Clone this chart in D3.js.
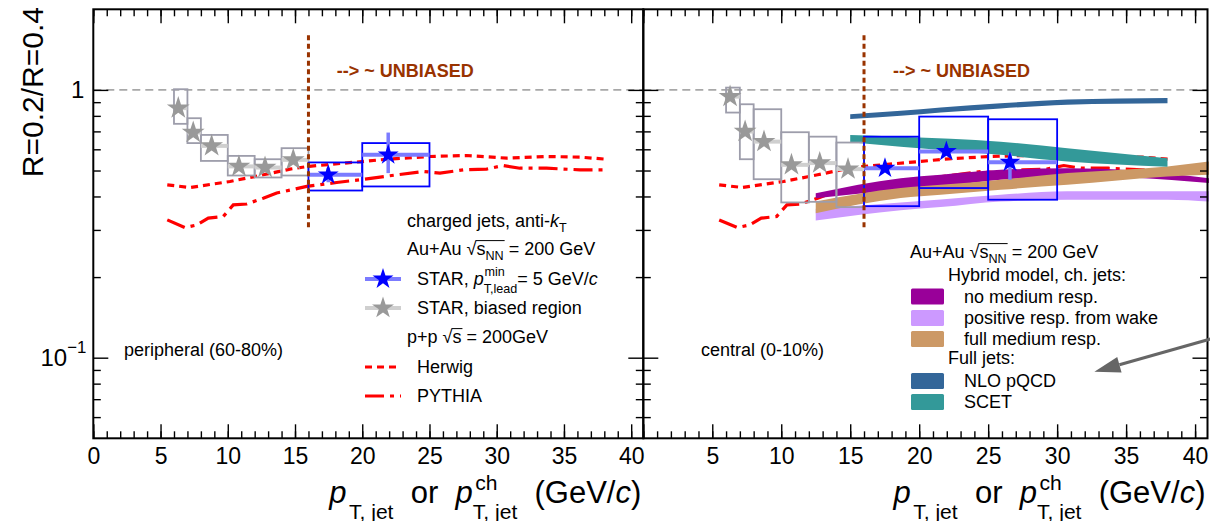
<!DOCTYPE html>
<html>
<head>
<meta charset="utf-8">
<script src="https://cdn.jsdelivr.net/npm/d3@7"></script>
<style>
  html, body { margin: 0; padding: 0; background: #fff; }
  svg { display: block; font-family: "Liberation Sans", Arial, Helvetica, sans-serif; }
  text { white-space: pre; }
</style>
</head>
<body>
<svg id="chart" width="1210" height="521"></svg>
<script>
// ---------------- axis ticks ----------------
const xMajor = [0, 5, 10, 15, 20, 25, 30, 35, 40];
const xMinor = d3.range(0, 41, 1);
const xLabelsLeft = [0, 5, 10, 15, 20, 25, 30, 35, 40];
const xLabelsRight = [5, 10, 15, 20, 25, 30, 35, 40];
const yMajor = [0.1, 1];
const yMinor = [0.06, 0.07, 0.08, 0.09, 0.2, 0.3, 0.4, 0.5, 0.6, 0.7, 0.8, 0.9];

// ---------------- STAR bins ----------------
const biasedBinLo = [6, 7, 8, 10, 12, 14];
const biasedBinHi = [7, 8, 10, 12, 14, 16];

// peripheral (60-80%)
const periBiasedX = [6.32, 7.43, 8.80, 10.83, 12.77, 14.87];
const periBiasedY = [0.855, 0.693, 0.618, 0.518, 0.513, 0.548];
const periBiasedSysLo = [0.747, 0.633, 0.543, 0.479, 0.471, 0.479];
const periBiasedSysHi = [1.006, 0.784, 0.679, 0.567, 0.551, 0.606];

const periBinLo = [16, 20];
const periBinHi = [20, 25];
const periX = [17.47, 21.93];
const periY = [0.482, 0.572];
const periStatLo = [0.452, 0.489];
const periStatHi = [0.512, 0.693];
const periSysLo = [0.421, 0.436];
const periSysHi = [0.536, 0.633];

// central (0-10%)
const centBiasedX = [6.29, 7.38, 8.75, 10.74, 12.79, 14.84];
const centBiasedY = [0.944, 0.699, 0.641, 0.525, 0.533, 0.506];
const centBiasedSysLo = [0.823, 0.551, 0.464, 0.380, 0.382, 0.365];
const centBiasedSysHi = [1.02, 0.884, 0.847, 0.695, 0.669, 0.636];

const centBinLo = [16, 20, 25];
const centBinHi = [20, 25, 30];
const centX = [17.52, 21.97, 26.58];
const centY = [0.510, 0.589, 0.537];
const centStatLo = [0.495, 0.572, 0.462];
const centStatHi = [0.526, 0.607, 0.580];
const centSysLo = [0.368, 0.430, 0.389];
const centSysHi = [0.669, 0.795, 0.777];

// ---------------- p+p MC ----------------
const herwigX = [5.5, 7.19, 10.16, 12.64, 14.62, 15.99, 19.96, 21.81, 25.03, 27.76, 30.74, 33.71, 36.19, 38.17];
const herwigY = [0.442, 0.432, 0.455, 0.482, 0.506, 0.518, 0.540, 0.551, 0.564, 0.569, 0.556, 0.564, 0.561, 0.551];

const pythiaX = [5.5, 6.82, 7.69, 8.55, 9.67, 10.41, 11.41, 12.64, 13.64, 15.87, 18.10, 19.83, 22.06, 24.54, 25.78, 27.51, 29.25, 30.48, 31.72, 33.71, 36.19, 38.04];
const pythiaY = [0.327, 0.306, 0.313, 0.332, 0.337, 0.372, 0.375, 0.394, 0.412, 0.436, 0.451, 0.462, 0.478, 0.496, 0.489, 0.503, 0.506, 0.522, 0.510, 0.510, 0.503, 0.503];

// ---------------- model bands (central) ----------------
const nloX  = [15, 18.66, 21.56, 25.9, 30.74, 38];
const nloLo = [0.778, 0.800, 0.824, 0.853, 0.881, 0.892];
const nloHi = [0.812, 0.836, 0.860, 0.891, 0.920, 0.932];

const scetX  = [15, 18.66, 25.9, 30.74, 38];
const scetLo = [0.637, 0.614, 0.572, 0.540, 0.517];
const scetHi = [0.679, 0.669, 0.641, 0.606, 0.556];

const noRespX  = [12.5, 18.66, 21.56, 25.9, 30.74, 35.6, 41];
const noRespLo = [0.394, 0.424, 0.436, 0.462, 0.475, 0.470, 0.449];
const noRespHi = [0.411, 0.468, 0.482, 0.503, 0.510, 0.500, 0.468];

const wakeX  = [12.5, 18.66, 21.56, 25.9, 30.74, 38, 41];
const wakeLo = [0.325, 0.355, 0.365, 0.383, 0.389, 0.389, 0.383];
const wakeHi = [0.360, 0.380, 0.390, 0.406, 0.418, 0.418, 0.418];

const fullRespX  = [12.5, 18.66, 21.56, 25.9, 30.74, 38, 41];
const fullRespLo = [0.346, 0.395, 0.406, 0.424, 0.442, 0.475, 0.482];
const fullRespHi = [0.383, 0.430, 0.442, 0.462, 0.489, 0.518, 0.540];

// ---------------- colours ----------------
const C = {
  blue: '#0000ff', blueBar: '#7b7bff', gray: '#999999', grayBox: '#9d9dab', grayBar: '#cfcfcf',
  red: '#ff0000', brownLine: '#993300',
  noResp: '#990099', wake: '#cc99ff', fullResp: '#cc9966', nlo: '#336699', scet: '#339999'
};

// ---------------- layout ----------------
const Y_TOP = 9.3, Y_BOT = 438.3;
const L0 = 93.3, MID = 643.3, R1 = 1207.5;
const y = d3.scaleLog().domain([0.05, 2]).range([Y_BOT, Y_TOP]);
const xL = d3.scaleLinear().domain([0, 40.9]).range([L0, MID]);
const xR = d3.scaleLinear().domain([0, 40.9]).range([MID, R1]);
const FS = 18;

const svg = d3.select('#chart');

// Text made of pieces (italic letters, sub/superscripts) laid out left to right
function rich(parent, x, yb, parts, opts = {}) {
  const size = opts.size || FS;
  const g = parent.append('g');
  let cx = 0, baseEnd = 0;
  const marks = {};
  parts.forEach(p => {
    const fs = size * (p.k || 1);
    const t = g.append('text')
      .attr('y', (p.dy || 0) * size)
      .attr('font-size', fs)
      .attr('fill', opts.fill || '#000')
      .attr('font-style', p.it ? 'italic' : null)
      .attr('font-weight', p.b || opts.bold ? 'bold' : null)
      .text(p.t);
    const x0 = p.stack ? baseEnd : cx + (p.gap || 0) * size;
    t.attr('x', x0);
    const w = t.node().getComputedTextLength();
    if (p.stack) cx = Math.max(cx, x0 + w);
    else { cx = x0 + w; if (!p.dy) baseEnd = cx; }
    if (p.mark) marks[p.mark] = { x0, x1: x0 + w };
  });
  if (marks.rad && marks.rend) {
    g.append('line')
      .attr('x1', marks.rad.x1 - 1).attr('x2', marks.rend.x1 + 1)
      .attr('y1', -0.80 * size).attr('y2', -0.80 * size)
      .attr('stroke', '#000').attr('stroke-width', 1);
  }
  const tx = opts.anchor === 'end' ? x - cx : x;
  g.attr('transform', `translate(${tx},${yb})`);
  return g;
}

function sqrtParts(sub) {
  const a = [{ t: '√', mark: 'rad' }, { t: 's' }];
  if (sub) a.push({ t: sub, k: 0.7, dy: 0.25, mark: 'rend' });
  else a[1].mark = 'rend';
  return a;
}

// ---------------- frames, axes ----------------
function panelAxes(xs, x0, x1, labels) {
  const ax = svg.append('g');
  const clean = g => g.select('.domain').remove();
  const style = g => g.selectAll('.tick line').attr('stroke', '#000').attr('stroke-width', 1.4);

  // bottom
  ax.append('g').attr('transform', `translate(0,${Y_BOT})`)
    .call(d3.axisBottom(xs).tickValues(xMinor).tickSize(-7).tickFormat(''))
    .call(clean).call(style);
  const gb = ax.append('g').attr('transform', `translate(0,${Y_BOT})`)
    .call(d3.axisBottom(xs).tickValues(xMajor).tickSize(-14).tickPadding(9)
      .tickFormat(d => labels.includes(d) ? d : ''))
    .call(clean).call(style);
  gb.selectAll('.tick text').attr('font-size', 23).attr('fill', '#000')
    .attr('font-family', '"Liberation Sans", Arial, sans-serif');

  // top
  ax.append('g').attr('transform', `translate(0,${Y_TOP})`)
    .call(d3.axisTop(xs).tickValues(xMinor).tickSize(-7).tickFormat(''))
    .call(clean).call(style);
  ax.append('g').attr('transform', `translate(0,${Y_TOP})`)
    .call(d3.axisTop(xs).tickValues(xMajor).tickSize(-14).tickFormat(''))
    .call(clean).call(style);

  // left / right
  ax.append('g').attr('transform', `translate(${x0},0)`)
    .call(d3.axisLeft(y).tickValues(yMinor).tickSize(-7.5).tickFormat(''))
    .call(clean).call(style);
  ax.append('g').attr('transform', `translate(${x0},0)`)
    .call(d3.axisLeft(y).tickValues(yMajor).tickSize(-15).tickFormat(''))
    .call(clean).call(style);
  ax.append('g').attr('transform', `translate(${x1},0)`)
    .call(d3.axisRight(y).tickValues(yMinor).tickSize(-7.5).tickFormat(''))
    .call(clean).call(style);
  ax.append('g').attr('transform', `translate(${x1},0)`)
    .call(d3.axisRight(y).tickValues(yMajor).tickSize(-15).tickFormat(''))
    .call(clean).call(style);

  ax.append('rect')
    .attr('x', x0).attr('y', Y_TOP).attr('width', x1 - x0).attr('height', Y_BOT - Y_TOP)
    .attr('fill', 'none').attr('stroke', '#000').attr('stroke-width', 2);
}

// ---------------- marks ----------------
const starGen = size => d3.symbol(d3.symbolStar, size)();

function drawRefLine(g, xs) {
  g.append('line')
    .attr('x1', xs.range()[0]).attr('x2', xs.range()[1])
    .attr('y1', y(1)).attr('y2', y(1))
    .attr('stroke', '#a8a8a8').attr('stroke-width', 1.6).attr('stroke-dasharray', '8,5');
}

function drawMC(g, xs) {
  const line = d3.line().x(d => xs(d[0])).y(d => y(d[1]));
  g.append('path').datum(d3.zip(herwigX, herwigY)).attr('d', line)
    .attr('fill', 'none').attr('stroke', C.red).attr('stroke-width', 3.2)
    .attr('stroke-dasharray', '7,5');
  g.append('path').datum(d3.zip(pythiaX, pythiaY)).attr('d', line)
    .attr('fill', 'none').attr('stroke', C.red).attr('stroke-width', 3.2)
    .attr('stroke-dasharray', '19,6,4,6');
}

function drawBand(g, xs, X, lo, hi, color) {
  const area = d3.area().x(d => xs(d[0])).y0(d => y(d[1])).y1(d => y(d[2]))
    .curve(d3.curveMonotoneX);
  g.append('path').datum(d3.zip(X, lo, hi)).attr('d', area).attr('fill', color);
}

function drawBoxes(g, xs, lo, hi, sLo, sHi, color) {
  g.selectAll(null).data(d3.range(lo.length)).join('rect')
    .attr('x', i => xs(lo[i])).attr('width', i => xs(hi[i]) - xs(lo[i]))
    .attr('y', i => y(sHi[i])).attr('height', i => y(sLo[i]) - y(sHi[i]))
    .attr('fill', 'none').attr('stroke', color).attr('stroke-width', 1.8);
}

function drawPoints(g, xs, X, Y, lo, hi, barColor, starColor, size, stLo, stHi) {
  const idx = d3.range(X.length);
  g.selectAll(null).data(idx).join('line')
    .attr('x1', i => xs(lo[i])).attr('x2', i => xs(hi[i]))
    .attr('y1', i => y(Y[i])).attr('y2', i => y(Y[i]))
    .attr('stroke', barColor).attr('stroke-width', 4);
  if (stLo) {
    g.selectAll(null).data(idx).join('line')
      .attr('x1', i => xs(X[i])).attr('x2', i => xs(X[i]))
      .attr('y1', i => y(stLo[i])).attr('y2', i => y(stHi[i]))
      .attr('stroke', barColor).attr('stroke-width', 3.5);
  }
  g.selectAll(null).data(idx).join('path')
    .attr('d', starGen(size))
    .attr('transform', i => `translate(${xs(X[i])},${y(Y[i])})`)
    .attr('fill', starColor);
}

function drawUnbiased(g, xs) {
  g.append('line')
    .attr('x1', xs(16)).attr('x2', xs(16))
    .attr('y1', y(1.6)).attr('y2', y(0.3))
    .attr('stroke', C.brownLine).attr('stroke-width', 3).attr('stroke-dasharray', '5,3.5');
  rich(g, xs(18.1), y(1.115), [{ t: '--> ~ ', b: true }, { t: 'UNBIASED', b: true }], { fill: C.brownLine });
}

// ================= left panel: peripheral =================
const gL = svg.append('g');
drawRefLine(gL, xL);
drawMC(gL, xL);
drawBoxes(gL, xL, biasedBinLo, biasedBinHi, periBiasedSysLo, periBiasedSysHi, C.grayBox);
drawBoxes(gL, xL, periBinLo, periBinHi, periSysLo, periSysHi, C.blue);
drawPoints(gL, xL, periBiasedX, periBiasedY, biasedBinLo, biasedBinHi, C.grayBar, C.gray, 162);
drawPoints(gL, xL, periX, periY, periBinLo, periBinHi, C.blueBar, C.blue, 136, periStatLo, periStatHi);
drawUnbiased(gL, xL);

// ================= right panel: central =================
const gR = svg.append('g');
drawRefLine(gR, xR);
drawMC(gR, xR);
drawBand(gR, xR, wakeX, wakeLo, wakeHi, C.wake);
drawBand(gR, xR, noRespX, noRespLo, noRespHi, C.noResp);
drawBand(gR, xR, fullRespX, fullRespLo, fullRespHi, C.fullResp);
drawBand(gR, xR, scetX, scetLo, scetHi, C.scet);
drawBand(gR, xR, nloX, nloLo, nloHi, C.nlo);
drawBoxes(gR, xR, biasedBinLo, biasedBinHi, centBiasedSysLo, centBiasedSysHi, C.grayBox);
drawBoxes(gR, xR, centBinLo, centBinHi, centSysLo, centSysHi, C.blue);
drawPoints(gR, xR, centBiasedX, centBiasedY, biasedBinLo, biasedBinHi, C.grayBar, C.gray, 162);
drawPoints(gR, xR, centX, centY, centBinLo, centBinHi, C.blueBar, C.blue, 136, centStatLo, centStatHi);
drawUnbiased(gR, xR);

panelAxes(xL, L0, MID, xLabelsLeft);
panelAxes(xR, MID, R1, xLabelsRight);

// ---------------- y axis labels ----------------
rich(svg, L0 - 9, y(1) + 8, [{ t: '1' }], { size: 24, anchor: 'end' });
rich(svg, L0 - 7, y(0.1) + 8, [{ t: '10' }, { t: '−1', k: 0.7, dy: -0.55 }], { size: 24, anchor: 'end' });
svg.append('text')
  .attr('transform', `translate(43,7) rotate(-90)`)
  .attr('text-anchor', 'end').attr('font-size', 30).text('R=0.2/R=0.4');

// ---------------- x axis titles ----------------
const xTitle = [
  { t: 'p', it: true }, { t: 'T, jet', k: 0.68, dy: 0.5, gap: 0.08 },
  { t: '  or  ' },
  { t: 'p', it: true }, { t: 'ch', k: 0.68, dy: -0.42, gap: 0.08 }, { t: 'T, jet', k: 0.68, dy: 0.5, stack: true },
  { t: '  (GeV/' }, { t: 'c', it: true }, { t: ')' }
];
rich(svg, MID - 2, 503, xTitle, { size: 31, anchor: 'end' });
rich(svg, R1 - 2, 503, xTitle, { size: 31, anchor: 'end' });

// ---------------- left legend ----------------
rich(svg, 124, 356, [{ t: 'peripheral (60-80%)' }]);
const lgx = 407, lgi = 417, lgm = 383;
rich(svg, lgx, 227, [{ t: 'charged jets, anti-' }, { t: 'k', it: true }, { t: 'T', k: 0.7, dy: 0.3 }]);
rich(svg, lgx, 255, [{ t: 'Au+Au ' }, ...sqrtParts('NN'), { t: ' = 200 GeV' }]);
rich(svg, lgi, 285, [{ t: 'STAR, ' }, { t: 'p', it: true },
  { t: 'min', k: 0.7, dy: -0.5, gap: 0.05 }, { t: 'T,lead', k: 0.7, dy: 0.45, stack: true },
  { t: '= 5 GeV/' }, { t: 'c', it: true }]);
rich(svg, lgi, 314, [{ t: 'STAR, biased region' }]);
rich(svg, lgx, 343, [{ t: 'p+p ' }, ...sqrtParts(null), { t: ' = 200GeV' }]);
rich(svg, lgi, 373, [{ t: 'Herwig' }]);
rich(svg, lgi, 402, [{ t: 'PYTHIA' }]);

const lg = svg.append('g');
[[279, C.blueBar, C.blue, 136], [308, C.grayBar, C.gray, 150]].forEach(([yy, bar, col, sz]) => {
  lg.append('line').attr('x1', lgm - 18).attr('x2', lgm + 18).attr('y1', yy).attr('y2', yy)
    .attr('stroke', bar).attr('stroke-width', 4);
  lg.append('path').attr('d', starGen(sz)).attr('transform', `translate(${lgm},${yy})`).attr('fill', col);
});
lg.append('line').attr('x1', lgm - 18).attr('x2', lgm + 18).attr('y1', 367).attr('y2', 367)
  .attr('stroke', C.red).attr('stroke-width', 3.2).attr('stroke-dasharray', '7,5');
lg.append('line').attr('x1', lgm - 18).attr('x2', lgm + 18).attr('y1', 396).attr('y2', 396)
  .attr('stroke', C.red).attr('stroke-width', 3.2).attr('stroke-dasharray', '19,6,4,6');

// ---------------- right legend ----------------
rich(svg, 701, 356, [{ t: 'central (0-10%)' }]);
rich(svg, 910, 258, [{ t: 'Au+Au ' }, ...sqrtParts('NN'), { t: ' = 200 GeV' }]);
rich(svg, 948, 281, [{ t: 'Hybrid model, ch. jets:' }]);
rich(svg, 948, 364, [{ t: 'Full jets:' }]);
const rItems = [
  ['no medium resp.', C.noResp, 296.5],
  ['positive resp. from wake', C.wake, 318],
  ['full medium resp.', C.fullResp, 339],
  ['NLO pQCD', C.nlo, 381],
  ['SCET', C.scet, 402]
];
rItems.forEach(([label, col, yy]) => {
  svg.append('rect').attr('x', 911).attr('y', yy - 8).attr('width', 33).attr('height', 16)
    .attr('rx', 1.5).attr('fill', col);
  rich(svg, 964, yy + 6, [{ t: label }]);
});

// arrow pointing to the full-jet calculations
const arrowTail = [41.4, 0.1186], arrowTip = [32.7, 0.0886];
const ax1 = xR(arrowTail[0]), ay1 = y(arrowTail[1]), ax2 = xR(arrowTip[0]), ay2 = y(arrowTip[1]);
const ang = Math.atan2(ay2 - ay1, ax2 - ax1);
const headL = 26, headW = 8;
const bx = ax2 - headL * Math.cos(ang), by = ay2 - headL * Math.sin(ang);
svg.append('line').attr('x1', ax1).attr('y1', ay1).attr('x2', bx).attr('y2', by)
  .attr('stroke', '#666').attr('stroke-width', 3);
svg.append('path')
  .attr('d', `M${ax2},${ay2} L${bx + headW * Math.sin(ang)},${by - headW * Math.cos(ang)} L${bx - headW * Math.sin(ang)},${by + headW * Math.cos(ang)} Z`)
  .attr('fill', '#666');
</script>
</body>
</html>
